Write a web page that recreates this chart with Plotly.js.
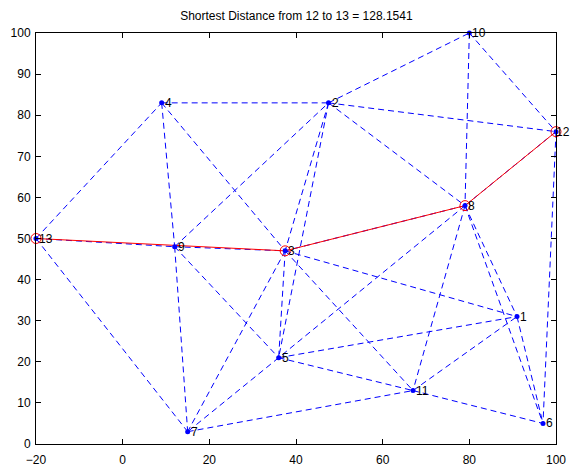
<!DOCTYPE html>
<html>
<head>
<meta charset="utf-8">
<script src="https://cdn.plot.ly/plotly-3.0.1.min.js"></script>
<style>html,body{margin:0;padding:0;background:#fff;}#chart{width:570px;height:472px;}</style>
</head>
<body>
<div id="chart"></div>
<script>
// Node coordinates (node i is at index i-1)
const nodeLabels = ['1','2','3','4','5','6','7','8','9','10','11','12','13'];
const nodeX = [91, 47.5, 37.5, 9, 36, 97, 15, 79, 12, 80, 67, 100, -20];
const nodeY = [31, 83, 47, 83, 21, 5, 3, 58, 48, 100, 13, 76, 50];

// Graph edges (node numbers)
const edgeFrom = [13, 13, 13, 4, 4, 4, 9, 9, 9, 9, 2, 2, 2, 2, 2, 10, 10, 12, 12, 8, 8, 8, 8, 8, 3, 3, 3, 3, 5, 5, 5, 7, 11, 11, 1];
const edgeTo   = [ 4,  9,  7, 2, 9, 3, 2, 5, 7, 3, 3, 5,10,12, 8,  8, 12,  8,  6, 3, 5,11, 1, 6, 1, 5, 7,11, 7, 1,11,11,  6,  1, 6];

// Shortest path 12 -> 13
const pathNodes = [12, 8, 3, 13];
const titleText = 'Shortest Distance from 12 to 13 = 128.1541';

const ex = [], ey = [];
for (let i = 0; i < edgeFrom.length; i++) {
  ex.push(nodeX[edgeFrom[i]-1], nodeX[edgeTo[i]-1], null);
  ey.push(nodeY[edgeFrom[i]-1], nodeY[edgeTo[i]-1], null);
}
const px = pathNodes.map(n => nodeX[n-1]);
const py = pathNodes.map(n => nodeY[n-1]);

const traces = [
  {x: ex, y: ey, mode: 'lines', type: 'scatter', hoverinfo: 'skip', cliponaxis: false,
   line: {color: '#0000ff', width: 1, dash: '6px,4px'}},
  {x: px, y: py, mode: 'lines+markers', type: 'scatter', cliponaxis: false,
   line: {color: '#ff0000', width: 1},
   marker: {symbol: 'circle-open', size: 10, color: '#ff0000', line: {width: 1, color: '#ff0000'}}},
  {x: nodeX, y: nodeY, mode: 'markers', type: 'scatter', cliponaxis: false,
   marker: {symbol: 'circle', size: 5, color: '#0000ff'}}
];

const annotations = nodeLabels.map((t, i) => ({
  x: nodeX[i], y: nodeY[i], xref: 'x', yref: 'y', text: t, showarrow: false,
  xanchor: 'left', yanchor: 'middle', xshift: nodeX[i] >= 100 ? -1 : 2,
  borderpad: 0,
  font: {family: 'Liberation Sans, Arial, sans-serif', size: 12, color: '#000'}
}));

const axisCommon = {
  showgrid: false, zeroline: false, showline: true, mirror: 'ticks',
  linecolor: '#000', linewidth: 1, ticks: 'inside', ticklen: 5, tickcolor: '#000',
  tickfont: {family: 'Liberation Sans, Arial, sans-serif', size: 12, color: '#000'}
};

const layout = {
  width: 570, height: 472,
  margin: {l: 36, r: 14, t: 33, b: 28},
  paper_bgcolor: '#fff', plot_bgcolor: '#fff',
  showlegend: false,
  annotations: annotations,
  title: {text: titleText, x: 0.52, xanchor: 'center', y: 0.975, yanchor: 'top',
          font: {family: 'Liberation Sans, Arial, sans-serif', size: 12, color: '#000'}},
  xaxis: Object.assign({}, axisCommon, {range: [-20, 100], tickvals: [-20, 0, 20, 40, 60, 80, 100], ticklabelstandoff: 5}),
  yaxis: Object.assign({}, axisCommon, {range: [0, 100], tickvals: [0,10,20,30,40,50,60,70,80,90,100], ticklabelstandoff: 2})
};

Plotly.newPlot('chart', traces, layout, {displayModeBar: false, staticPlot: true});
</script>
</body>
</html>
